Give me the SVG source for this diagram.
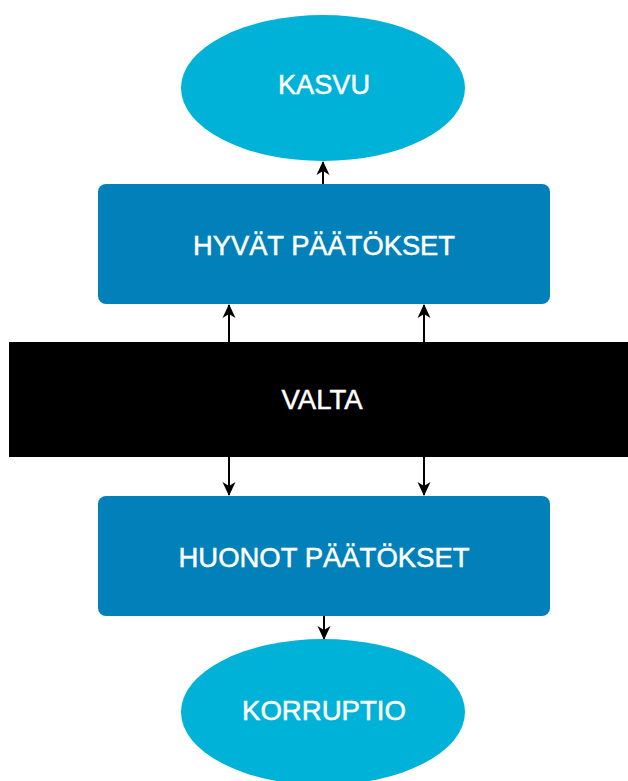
<svg xmlns="http://www.w3.org/2000/svg" width="628" height="781" viewBox="0 0 628 781">
  <style>
    .oval { fill: #00B2D8; }
    .box { fill: #0180B9; }
    .bar { fill: #000000; }
    .label { font-family: "Liberation Sans", Arial, sans-serif; font-size: 28px; fill: #FFFFFF; stroke: #FFFFFF; stroke-width: 0.5; text-anchor: middle; }
    .edge { stroke: #000000; stroke-width: 2; fill: none; marker-end: url(#arrow); }
  </style>
  <defs>
    <marker id="arrow" markerWidth="16" markerHeight="16" refX="13" refY="8" orient="auto" markerUnits="userSpaceOnUse">
      <path d="M0,1.5 L14,8 L0,14.5 L4,8 Z" fill="#000000"/>
    </marker>
  </defs>
  <rect width="628" height="781" fill="#FFFFFF"/>

  <g id="connectors">
    <line class="edge" x1="323" y1="184" x2="323" y2="162"/>
    <line class="edge" x1="229" y1="342" x2="229" y2="305"/>
    <line class="edge" x1="424" y1="342" x2="424" y2="305"/>
    <line class="edge" x1="229" y1="457" x2="229" y2="495"/>
    <line class="edge" x1="424" y1="457" x2="424" y2="495"/>
    <line class="edge" x1="324" y1="616" x2="324" y2="639"/>
  </g>

  <g id="kasvu">
    <ellipse class="oval" cx="323" cy="88" rx="142" ry="73"/>
    <text class="label" x="324" y="94" textLength="92" lengthAdjust="spacingAndGlyphs">KASVU</text>
  </g>

  <g id="hyvat-paatokset">
    <rect class="box" x="98" y="184" width="452" height="120" rx="8"/>
    <text class="label" x="324" y="255" textLength="262" lengthAdjust="spacingAndGlyphs">HYVÄT PÄÄTÖKSET</text>
  </g>

  <g id="valta">
    <rect class="bar" x="9" y="342" width="619" height="115"/>
    <text class="label" x="322" y="409" font-size="25" textLength="81" lengthAdjust="spacingAndGlyphs">VALTA</text>
  </g>

  <g id="huonot-paatokset">
    <rect class="box" x="98" y="496" width="452" height="120" rx="8"/>
    <text class="label" x="324" y="567" textLength="291" lengthAdjust="spacingAndGlyphs">HUONOT PÄÄTÖKSET</text>
  </g>

  <g id="korruptio">
    <ellipse class="oval" cx="323" cy="712" rx="142" ry="73"/>
    <text class="label" x="324" y="720" textLength="164" lengthAdjust="spacingAndGlyphs">KORRUPTIO</text>
  </g>
</svg>
